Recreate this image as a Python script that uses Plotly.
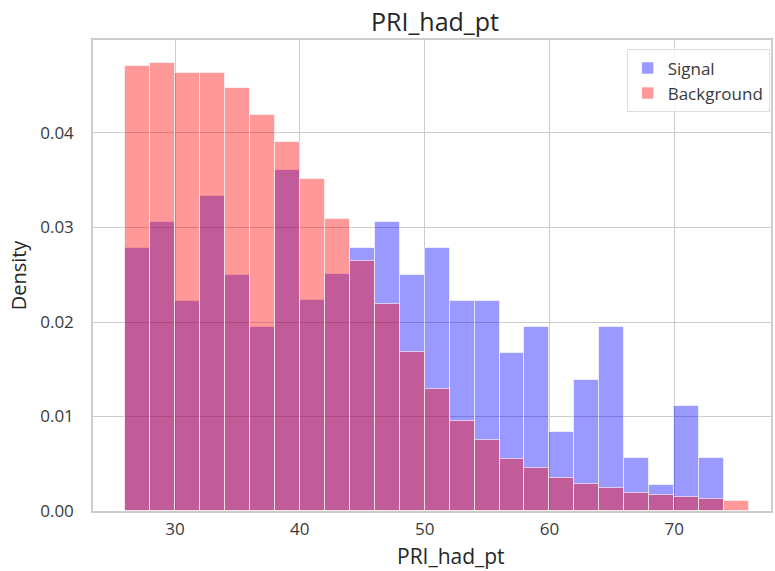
import plotly.graph_objects as go

bin_centers_signal = [27, 29, 31, 33, 35, 37, 39, 41, 43, 45, 47, 49, 51, 53, 55, 57, 59, 61, 63, 65, 67, 69, 71, 73]
signal_density = [0.0278, 0.0306, 0.0222, 0.0333, 0.0250, 0.0195, 0.0361, 0.0223, 0.0251, 0.0278,
                  0.0306, 0.0250, 0.0278, 0.0222, 0.0222, 0.0167, 0.0195, 0.0084, 0.0139, 0.0195,
                  0.0056, 0.0028, 0.0111, 0.0056]

bin_centers_background = [27, 29, 31, 33, 35, 37, 39, 41, 43, 45, 47, 49, 51, 53, 55, 57, 59, 61, 63, 65, 67, 69, 71, 73, 75]
background_density = [0.0471, 0.0474, 0.0463, 0.0463, 0.0448, 0.0419, 0.0390, 0.0351, 0.0309, 0.0265,
                      0.0219, 0.0168, 0.0129, 0.0095, 0.0075, 0.0055, 0.0046, 0.0035, 0.0029, 0.0024,
                      0.0019, 0.0017, 0.0015, 0.0013, 0.0011]

bin_width = 2
x_ticks = [30, 40, 50, 60, 70]
y_ticks = [0.00, 0.01, 0.02, 0.03, 0.04]

fig = go.Figure()
fig.add_trace(go.Bar(
    x=bin_centers_signal, y=signal_density, width=bin_width, name="Signal",
    marker=dict(color="rgba(0,0,255,0.4)", line=dict(color="rgba(255,255,255,0.6)", width=1)),
))
fig.add_trace(go.Bar(
    x=bin_centers_background, y=background_density, width=bin_width, name="Background",
    marker=dict(color="rgba(255,0,0,0.4)", line=dict(color="rgba(255,255,255,0.6)", width=1)),
))

font_family = "Open Sans"
fig.update_layout(
    width=775, height=571,
    margin=dict(l=93, r=2, t=40, b=60),
    barmode="overlay", bargap=0,
    plot_bgcolor="white", paper_bgcolor="white",
    font=dict(family=font_family, color="#3a3a3a", size=17),
    title=dict(text="PRI_had_pt", x=435 / 775, xanchor="center",
               y=1 - 22 / 571, yanchor="middle", font=dict(size=25, color="#262626")),
    legend=dict(x=0.998, xanchor="right", y=0.98, yanchor="top",
                bgcolor="rgba(255,255,255,0.8)", bordercolor="#dddddd", borderwidth=1,
                font=dict(size=17, color="#3a3a3a")),
    showlegend=True,
    annotations=[dict(
        text="PRI_had_pt", xref="paper", yref="paper",
        x=(452 - 93) / 680, y=(511 - 571) / 471, xanchor="center", yanchor="bottom",
        borderpad=0,
        showarrow=False, font=dict(size=21, color="#262626"),
    )],
)
fig.update_xaxes(
    range=[23.43, 77.75], tickvals=x_ticks, ticktext=[str(v) for v in x_ticks],
    showgrid=True, gridcolor="#cccccc", gridwidth=1,
    showline=True, linecolor="#cccccc", linewidth=1.5, mirror=True,
    zeroline=False, ticks="", tickfont=dict(size=17), ticklabelstandoff=2,
)
fig.update_yaxes(
    range=[0, 0.04984], tickvals=y_ticks, ticktext=[f"{v:.2f}" for v in y_ticks],
    showgrid=True, gridcolor="#cccccc", gridwidth=1,
    showline=True, linecolor="#cccccc", linewidth=1.5, mirror=True,
    zeroline=False, ticks="", tickfont=dict(size=17), ticklabelstandoff=14,
    title=dict(text="Density", font=dict(size=20, color="#262626"), standoff=8),
)

fig.write_html("out.html")
